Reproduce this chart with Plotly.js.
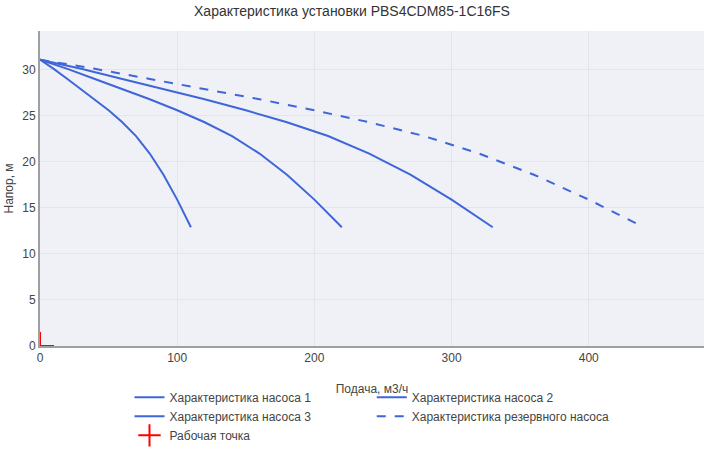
<!DOCTYPE html>
<html>
<head>
<meta charset="utf-8">
<script src="https://cdn.plot.ly/plotly-3.0.1.min.js"></script>
<style>
  html, body { margin: 0; padding: 0; background: #fff; }
  #plotDiv { width: 704px; height: 450px; }
</style>
</head>
<body>
<div id="plotDiv"></div>
<script>
// Pump curves: flow (m3/h) vs head (m)
const pump1Q = [0, 10, 20, 30, 40, 50, 60, 70, 80, 90, 100, 110];
const pump1H = [31.1, 30.1, 29.0, 27.9, 26.8, 25.6, 24.3, 22.8, 20.9, 18.6, 15.9, 12.9];

const pump2Q = [0, 20, 40, 60, 80, 100, 120, 140, 160, 180, 200, 220];
const pump2H = [31.1, 30.1, 29.0, 27.9, 26.8, 25.6, 24.3, 22.8, 20.9, 18.6, 15.9, 12.9];

const pump3Q = [0, 30, 60, 90, 120, 150, 180, 210, 240, 270, 300, 330];
const pump3H = [31.1, 30.1, 29.0, 27.9, 26.8, 25.6, 24.3, 22.8, 20.9, 18.6, 15.9, 12.9];

const reserveQ = [0, 40, 80, 120, 160, 200, 240, 280, 320, 360, 400, 440];
const reserveH = [31.1, 30.1, 29.0, 27.9, 26.8, 25.6, 24.3, 22.8, 20.9, 18.6, 15.9, 12.9];

const workQ = [0];
const workH = [0];

const BLUE = '#3f66d9';
const FONT = 'Arial, "Liberation Sans", sans-serif';

const line = (x, y, name, dash) => ({
    x, y, name,
    type: 'scatter',
    mode: 'lines',
    line: { color: BLUE, width: 2, dash: dash || 'solid' },
});

const traces = [
    line(pump1Q, pump1H, 'Характеристика насоса 1'),
    line(pump2Q, pump2H, 'Характеристика насоса 2'),
    line(pump3Q, pump3H, 'Характеристика насоса 3'),
    line(reserveQ, reserveH, 'Характеристика резервного насоса', 'dash'),
    {
        x: workQ, y: workH,
        name: 'Рабочая точка',
        type: 'scatter',
        mode: 'markers',
        marker: { symbol: 'cross-thin-open', size: 20, color: 'red', line: { color: 'red', width: 2 } },
    },
];

const axisBase = {
    gridcolor: '#e3e5ea',
    zeroline: false,
    showline: true,
    linecolor: '#a0a0a0',
    linewidth: 2,
    layer: 'below traces',
    ticks: '',
    tickfont: { size: 12, color: '#444' },
    automargin: false,
};

const layout = {
    width: 704,
    height: 450,
    paper_bgcolor: '#ffffff',
    plot_bgcolor: '#eff1f6',
    font: { family: FONT, size: 12, color: '#444' },
    title: { text: 'Характеристика установки PBS4CDM85-1C16FS', font: { size: 14, color: '#333' }, x: 0.5, y: 0.975, yanchor: 'middle' },
    margin: { l: 40, r: 0, t: 31, b: 99 },
    xaxis: Object.assign({}, axisBase, {
        range: [0, 484],
        dtick: 100,
        title: { text: 'Подача, м3/ч', font: { size: 12 }, standoff: 20 },
    }),
    yaxis: Object.assign({}, axisBase, {
        range: [0, 34.21],
        dtick: 5,
        title: { text: 'Напор, м', font: { size: 12 }, standoff: 6 },
    }),
    legend: {
        orientation: 'h',
        x: 0.5, xanchor: 'center',
        y: -0.117, yanchor: 'top',
        font: { size: 12, color: '#444' },
        tracegroupgap: 0,
    },
    showlegend: true,
};

Plotly.newPlot('plotDiv', traces, layout, { displayModeBar: false, staticPlot: true });
</script>
</body>
</html>
